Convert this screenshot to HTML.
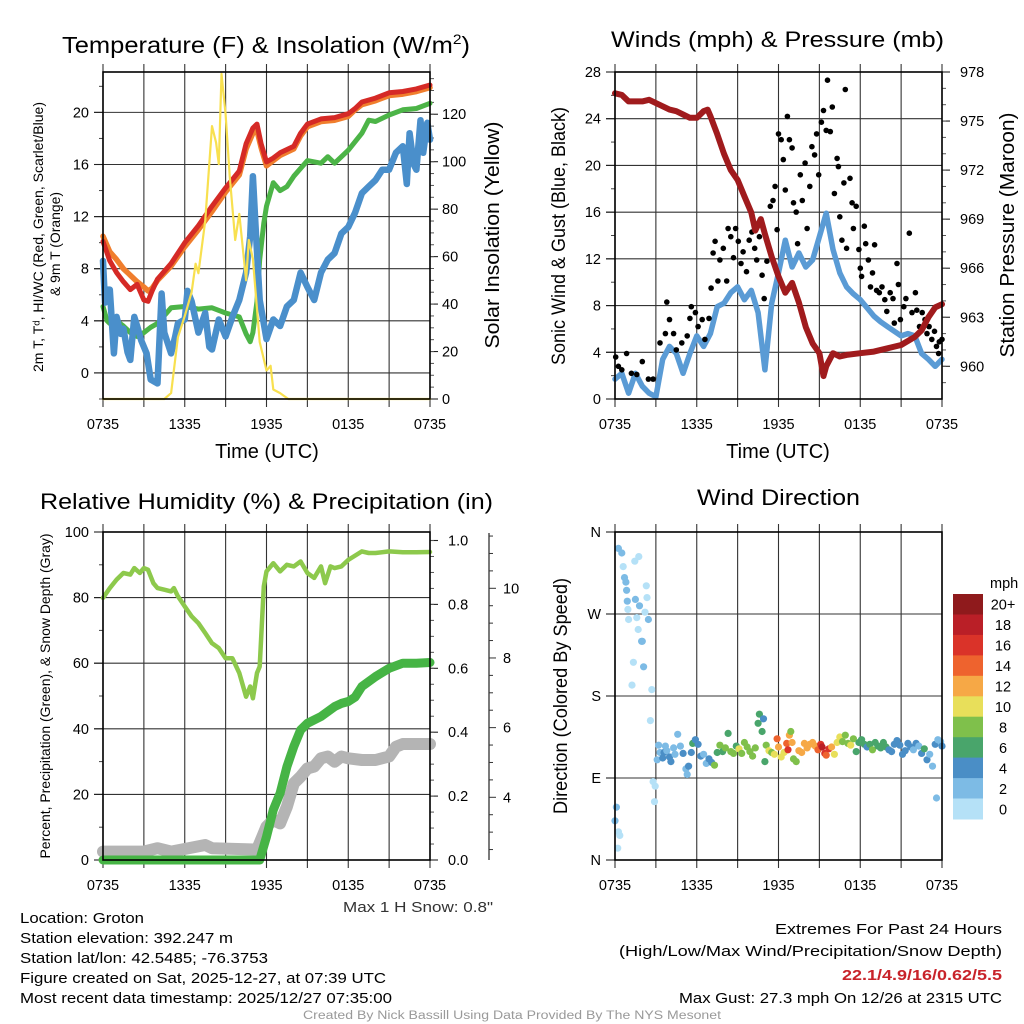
<!DOCTYPE html>
<html><head><meta charset="utf-8"><style>
html,body{margin:0;padding:0;background:#fff;}
svg{display:block;font-family:"Liberation Sans",Arial,sans-serif;}
</style></head><body>
<svg id="chart" width="1024" height="1024" viewBox="0 0 1024 1024" xmlns="http://www.w3.org/2000/svg">
<rect x="0" y="0" width="1024" height="1024" fill="#fff"/>
</svg>
<script>
// ---------- DATA ----------
const timeTickLabels = ["0735","1335","1935","0135","0735"];
const timeTickHours = [0,6,12,18,24];
// Panel 1
const redH = [0,0.5,1,1.5,2,2.5,3,3.3,3.6,4,5,6,7,8,9,10,10.5,11,11.3,11.6,12,12.5,13,14,14.5,15,16,17,18,18.5,19,20,21,22,23,24];
const redV = [10.1,8.6,7.7,7.0,6.4,6.8,5.6,5.5,6.3,7.2,8.4,10.0,11.3,12.8,14.2,15.5,17.6,18.8,19.1,17.6,16.2,16.5,16.9,17.4,18.4,19.1,19.5,19.6,19.9,20.3,20.8,21.1,21.5,21.6,21.8,22.1];
const orangeV = [10.5,9.3,8.7,8.0,7.5,7.0,6.6,6.3,6.5,7.1,8.2,9.7,11.0,12.4,13.9,15.2,17.2,18.4,18.6,17.3,15.9,16.3,16.7,17.2,18.2,18.9,19.3,19.4,19.7,20.2,20.6,20.9,21.3,21.4,21.6,21.9];
const greenH = [0,0.3,0.5,1,1.5,2,2.5,3,3.5,4,5,6,7,8,9,10,10.5,10.8,11,11.3,11.5,11.8,12,12.5,13,13.5,14,15,16,16.5,17,18,19,19.5,20,21,22,23,24];
const greenV = [5.1,4.0,3.8,4.0,3.6,3.1,2.8,3.1,3.5,3.8,5.0,5.1,4.9,5.0,4.6,4.3,3.0,2.4,3.1,5.5,8.7,11.5,12.8,14.6,14.0,14.3,15.1,16.3,16.1,16.6,16.1,17.1,18.4,19.4,19.3,19.8,20.2,20.3,20.7];
const blueH = [0,0.15,0.3,0.5,0.8,1,1.3,1.5,1.8,2,2.3,2.5,2.8,3.2,3.5,4,4.3,4.5,5,5.3,5.5,6,6.2,6.5,7,7.5,7.8,8,8.5,9,9.5,10,10.5,10.8,11,11.2,11.5,12,12.5,13,13.5,14,14.5,15,15.5,16,16.5,17,17.5,18,18.5,19,19.5,20,20.5,21,21.5,22,22.3,22.5,22.8,23,23.3,23.5,23.8,24];
const blueV = [8.6,5.4,6.4,6.4,1.5,4.3,3.0,3.4,1.6,1.0,4.3,3.6,2.5,1.5,-0.5,-0.8,6.1,3.1,1.5,2.8,3.8,4.1,6.3,5.5,3.1,4.6,2.0,1.8,4.1,2.8,4.3,5.6,7.7,10.5,15.1,11.2,5.6,2.6,4.1,3.6,5.1,5.6,7.7,6.6,5.6,7.7,8.7,9.2,10.7,11.2,12.3,13.8,14.3,14.8,15.6,15.6,16.9,17.4,14.5,18.4,16.0,15.6,19.4,16.9,19.2,17.9];
const solarH = [0,4.5,5,5.5,6,6.5,6.8,7,7.5,8,8.3,8.5,8.7,9,9.3,9.7,10,10.5,10.7,11,11.5,12,12.3,12.5,13,13.6,24];
const solarV = [0,0,2.5,26,35,45,57,53,75,115,108,99,137,120,94,67,78,50,67,59,24,12,14,4,2.5,0,0];
// Panel 2
const presH = [0,0.5,1,1.5,2,2.5,3,3.5,4,4.5,5,5.5,6,6.5,6.8,7,7.5,8,8.5,9,9.5,10,10.3,10.7,11,11.5,12,12.5,13,13.5,14,14.5,15,15.3,15.5,16,16.5,17,18,19,20,21,22,22.5,23,23.5,24];
const presV = [976.7,976.6,976.2,976.2,976.2,976.3,976.1,975.9,975.7,975.6,975.4,975.2,975.2,975.6,975.7,975.3,974.2,973.0,972.0,971.4,970.4,969.4,968.3,969.0,968.1,966.7,965.5,964.5,965.1,963.9,962.4,961.4,960.8,959.4,960.0,960.8,960.6,960.7,960.8,960.9,961.1,961.3,961.8,962.2,963.0,963.6,963.8];
const windV = [1.7,2.2,0.5,2.2,1.1,0.5,0.2,3.4,4.5,3.9,2.2,3.9,5.4,4.5,5.6,7.9,8.2,9.1,9.6,8.5,9.3,7.4,2.5,8.2,10.8,13.6,11.3,12.5,11.3,11.9,13.9,15.9,12.8,10.8,9.6,9.0,8.5,7.8,7.1,6.6,6.2,5.8,5.4,5.6,5.4,3.9,3.4,2.8,3.4];
const gustH = [0.05,0.25,0.5,0.85,1.2,1.6,2,2.45,2.8,3.3,3.7,3.8,4.0,4.3,4.5,4.9,5.3,5.5,5.6,5.9,6.1,6.4,6.6,6.9,7.05,7.2,7.35,7.55,7.7,7.95,8.2,8.3,8.5,8.7,8.85,9.05,9.25,9.4,9.65,9.85,10.05,10.25,10.4,10.6,10.8,10.95,11.15,11.4,11.6,11.75,11.9,12.0,12.2,12.35,12.5,12.65,12.8,13,13.1,13.3,13.4,13.6,13.75,13.95,14.1,14.3,14.45,14.65,14.8,14.95,15.15,15.3,15.5,15.6,15.8,15.95,16.1,16.3,16.4,16.5,16.65,16.8,16.9,17.0,17.25,17.4,17.5,17.7,17.9,18.0,18.1,18.3,18.4,18.6,18.75,18.9,19.05,19.2,19.4,19.6,19.8,19.95,20.2,20.4,20.5,20.7,20.8,20.95,21.2,21.35,21.6,21.8,22.05,22.15,22.35,22.55,22.75,22.9,23.05,23.25,23.45,23.6,23.8,24,23.75];
const gustV = [3.6,2.8,2.5,3.9,2.2,2.1,3.2,1.7,1.7,4.8,5.6,8.3,6.8,5.6,4.2,4.8,5.4,6.9,7.9,7.4,6.2,6.8,5.1,6.9,9.5,12.5,13.5,10.1,11.9,12.9,10.1,14.6,13.9,12.1,14.6,13.5,11.6,12.6,10.9,13.6,14.3,12.9,11.9,13.9,10.6,8.6,11.8,16.5,17.0,18.2,14.5,22.7,22.2,20.5,17.9,24.2,22.2,21.5,16.8,16.0,13.3,19.2,17.0,20.2,14.6,18.2,21.6,20.9,22.7,19.2,23.7,24.7,23.0,27.3,22.9,25.0,17.6,20.6,19.9,15.6,13.6,18.5,26.5,12.9,18.9,16.8,14.6,16.5,12.8,11.2,10.5,14.8,13.3,11.9,9.6,10.8,13.2,9.3,9.1,9.6,8.5,7.5,9.1,8.6,6.5,11.6,9.8,6.8,7.9,8.6,14.2,7.4,9.1,7.6,6.2,7.4,6.8,5.6,6.2,5.1,5.8,4.5,4.9,5.1,3.9];
// Panel 3
const rhH = [0,0.5,1,1.5,2,2.3,2.7,3,3.3,3.7,4,4.5,5,5.2,5.5,6,6.5,7,7.5,8,8.5,9,9.5,10,10.5,10.8,11,11.3,11.5,11.8,12,12.5,13,13.5,14,14.5,15,15.5,16,16.3,16.7,17,17.5,18,19,19.5,20,21,22,23,24];
const rhV = [79.9,82.9,85.5,87.5,87,89,87.5,89,88.5,84.4,82.9,82.4,81.9,82.9,80.4,77.3,74.3,72.2,69.2,66.1,64.6,61.5,61.5,57,49.8,52.9,49.3,57,59,83.4,88,90.5,88,90,89.5,91,87.5,86,89.5,84.4,89.5,89,89.5,91.5,94.1,93.6,93.6,94.1,93.8,93.8,93.9];
const precipH = [0,11.5,12,12.5,13,13.5,14,14.5,15,16,17,17.5,18,18.5,19,20,21,22,23,24];
const precipV = [0,0,0.073,0.157,0.209,0.292,0.355,0.407,0.428,0.449,0.48,0.49,0.496,0.51,0.543,0.574,0.6,0.616,0.616,0.618];
const snowH = [0,3,4,5,7.5,8,11.3,12,12.5,13,13.5,14,14.5,15,15.5,16,16.5,17,17.5,18,19,20,21,21.5,22,24];
const snowV = [2.44,2.44,2.54,2.44,2.63,2.54,2.5,3.16,3.35,3.25,3.73,4.4,4.59,4.83,4.88,5.12,5.17,5.02,5.17,5.12,5.07,5.07,5.17,5.45,5.53,5.53];
// Panel 4
const dirH = [0.25,0.5,0.6,0.7,0.8,0.85,0.9,0.95,1.0,1.45,1.75,1.5,1.8,1.6,1.7,1.95,2.0,2.2,2.3,2.35,2.45,1.35,2.1,1.25,2.7,2.6,2.8,2.95,2.9,0.1,0.0,0.25,0.35,0.2,3.1,3.2,3.3,3.5,3.6,3.7,3.8,4.0,4.1,4.3,4.4,4.6,4.8,5.0,5.2,5.3,5.4,5.6,5.7,5.9,6.1,6.3,6.5,6.7,6.9,7.1,7.3,7.5,7.7,7.9,8.1,8.3,8.5,8.7,8.9,9.1,9.3,9.5,9.7,9.9,10.1,10.3,10.5,10.6,10.8,10.9,11.0,11.1,11.3,11.5,11.7,11.9,12.0,12.2,12.4,12.6,12.7,12.8,12.9,13.0,13.1,13.3,13.5,13.7,13.9,14.1,14.3,14.5,14.7,14.9,15.1,15.2,15.4,15.5,15.7,15.9,16.1,16.3,16.5,16.7,16.9,17.1,17.3,17.5,17.7,17.9,18.1,18.3,18.5,18.7,18.9,19.1,19.3,19.5,19.7,19.9,20.1,20.3,20.5,20.7,20.9,21.1,21.3,21.5,21.7,21.9,22.1,22.3,22.5,22.7,22.9,23.1,23.3,23.5,23.6,23.7,23.9,24.0];
const dirV = [342,337,322,310,305,296,284,275,264,328,333,286,279,266,253,240,240,272,301,288,264,217,212,192,187,153,86,81,64,58,43,31,27,13,110,126,118,112,118,125,120,113,108,123,116,138,125,117,100,94,103,118,128,132,127,114,116,106,111,107,104,118,126,119,123,139,119,117,125,122,117,129,124,119,114,123,150,160,141,155,108,126,120,118,116,133,124,113,118,128,121,137,141,129,111,108,120,118,128,123,127,129,125,121,127,124,117,115,122,124,116,129,135,130,137,128,126,133,119,129,132,127,124,127,121,129,125,123,129,124,121,119,127,131,126,116,120,128,124,121,128,125,117,122,110,116,103,127,68,132,130,125];
const dirSpd = [3,3,1,3,3,3,3,1,1,1,1,3,3,1,1,3,3,1,1,1,3,1,3,1,1,1,1,1,1,3,3,1,1,1,2,2,3,4,4,2,3,4,4,3,2,2,2,4,2,2,4,4,6,4,4,4,2,2,4,4,8,6,8,7,8,6,8,8,6,10,8,8,8,8,9,8,6,6,6,4,6,8,10,9,10,14,12,10,10,14,16,12,9,12,9,8,12,12,12,12,12,12,13,14,16,18,16,14,16,12,10,10,10,8,8,9,10,8,6,6,6,6,5,6,8,6,6,6,6,6,4,4,4,4,4,4,4,4,4,2,4,2,4,6,4,2,2,4,2,2,2,4];
const speedBinLabels = ["20+","18","16","14","12","10","8","6","4","2","0"];
const speedBinColors = ["#8f1a1c","#ba1f27","#da3329","#ee632e","#f6a846","#e8df5a","#7fc04b","#49a56b","#4a8ec6","#7dbbe5","#b5e1f7"];

// ---------- HELPERS ----------
const svg = document.getElementById('chart');
const NS = 'http://www.w3.org/2000/svg';
function mk(tag, attrs, parent){
  const el = document.createElementNS(NS, tag);
  for (const k in attrs) el.setAttribute(k, attrs[k]);
  (parent||svg).appendChild(el);
  return el;
}
function txt(s, attrs, parent){ const t = mk('text', attrs, parent); t.textContent = s; return t; }
function linScale(d0,d1,r0,r1){ return v => r0 + (v-d0)/(d1-d0)*(r1-r0); }

function panel(name, box){
  const g = mk('g', {});
  
  
  const sx = linScale(0,24,box.x0,box.x1);
  const vg = mk('g', {}, g);
  
  
  for (let h=0; h<=24; h+=3){
    const l = mk('line', {x1:sx(h),x2:sx(h),y1:box.y0-8,y2:box.y1+8,stroke:'#333','stroke-width':1.1}, vg);
    
    
  }
  const xl = mk('g', {}, g);
  
  
  timeTickHours.forEach((h,i)=>{
    const t = txt(timeTickLabels[i], {x:sx(h), y:box.y1+30, 'text-anchor':'middle','font-size':14.5}, xl);
    
    
  });
  return {g, sx};
}
function yAxisLeft(g, box, sy, gridVals, majors, fmt, minors, name){
  const ag = mk('g', {}, g);
  
  
  gridVals.forEach(v=>{
    const l = mk('line', {x1:box.x0-9,x2:box.x1,y1:sy(v),y2:sy(v),stroke:'#333','stroke-width':1.1}, ag);
    
    
  });
  majors.forEach(v=>{
    mk('line', {x1:box.x0-9,x2:box.x0,y1:sy(v),y2:sy(v),stroke:'#222','stroke-width':1.1}, ag);
    const t = txt(fmt(v), {x:box.x0-14, y:sy(v)+5, 'text-anchor':'end','font-size':14.5}, ag);
    
    
  });
  minors.forEach(v=>{ mk('line', {x1:box.x0-4,x2:box.x0,y1:sy(v),y2:sy(v),stroke:'#444','stroke-width':1}, ag); });
}
function yAxisRight(g, x, sy, majors, minors, fmt, name, labelDx){
  const ag = mk('g', {}, g);
  
  
  majors.forEach(v=>{
    mk('line', {x1:x,x2:x+8,y1:sy(v),y2:sy(v),stroke:'#222','stroke-width':1.1}, ag);
    const t = txt(fmt(v), {x:x+labelDx, y:sy(v)+5, 'font-size':14.5}, ag);
    
    
  });
  minors.forEach(v=>{ mk('line', {x1:x,x2:x+4,y1:sy(v),y2:sy(v),stroke:'#555','stroke-width':1}, ag); });
}
function frame(g, box){
  const r = mk('rect', {x:box.x0,y:box.y0,width:box.x1-box.x0,height:box.y1-box.y0,fill:'none',stroke:'#000','stroke-width':1.6}, g);
  
  
}
function line(g, H, V, sx, sy, color, w, name){
  const pts = H.map((h,i)=> sx(h).toFixed(1)+','+sy(V[i]).toFixed(1)).join(' ');
  const p = mk('polyline', {points:pts, fill:'none', stroke:color, 'stroke-width':w, 'stroke-linejoin':'round','stroke-linecap':'round'}, g);
  
  
  return p;
}
function rotLabel(g, s, x, y, size, name, len){
  const a = {x:x, y:y, 'text-anchor':'middle','font-size':size, transform:'rotate(-90 '+x+' '+y+')'};
  if (len){ a.textLength = len; a.lengthAdjust = 'spacingAndGlyphs'; }
  const t = txt(s, a, g);
  
  
  return t;
}
function range(a,b,s){ const r=[]; for(let v=a; v<=b+1e-9; v+=s) r.push(Math.round(v*1000)/1000); return r; }

// ---------- PANEL 1 ----------
(function(){
  const box = {x0:103,x1:430,y0:72,y1:399};
  const {g, sx} = panel('temperature-panel', box);
  const sy = linScale(-2,23.1,box.y1,box.y0);
  const sr = linScale(0,137.8,box.y1,box.y0);
  yAxisLeft(g, box, sy, [0,4,8,12,16,20], [0,4,8,12,16,20], v=>String(v), range(-2,22,4), 'temperature-y-axis');
  yAxisRight(g, box.x1, sr, [0,20,40,60,80,100,120], range(5,135,5), v=>String(v), 'solar-y-axis', 12);
  const t = txt('Temperature (F) & Insolation (W/m', {x:62, y:53, 'font-size':23, textLength:408, lengthAdjust:'spacingAndGlyphs'}, g);
  const sup = mk('tspan', {'font-size':14, dy:-9}, t); sup.textContent='2';
  const cl = mk('tspan', {dy:9}, t); cl.textContent=')';
  
  
  line(g, redH, orangeV, sx, sy, '#f07e2d', 5.5, 'orange-9m-temp-line');
  line(g, redH, redV, sx, sy, '#d52a26', 5, 'red-2m-temp-line');
  line(g, greenH, greenV, sx, sy, '#4cb447', 5, 'green-dewpoint-line');
  line(g, blueH, blueV, sx, sy, '#4a8fcb', 6.5, 'blue-windchill-line');
  line(g, solarH, solarV, sx, sr, '#f8e04f', 2.2, 'yellow-solar-line');
  frame(g, box);
  rotLabel(g, '2m T, T\u1d48, HI/WC (Red, Green, Scarlet/Blue)', 43, 237, 14, 'temperature-y-title', 270);
  rotLabel(g, '& 9m T (Orange)', 60, 244, 14, 'temperature-y-title-line2', 104);
  rotLabel(g, 'Solar Insolation (Yellow)', 499, 235, 20, 'solar-y-title', 227);
  const xt = txt('Time (UTC)', {x:267, y:458, 'text-anchor':'middle','font-size':20}, g);
  
  
})();

// ---------- PANEL 2 ----------
(function(){
  const box = {x0:615,x1:942,y0:72,y1:399};
  const {g, sx} = panel('wind-pressure-panel', box);
  const sy = linScale(0,28,box.y1,box.y0);
  const sp = linScale(958,978,box.y1,box.y0);
  yAxisLeft(g, box, sy, [4,8,12,16,20,24], [0,4,8,12,16,20,24,28], v=>String(v), range(2,26,4), 'wind-y-axis');
  yAxisRight(g, box.x1, sp, [960,963,966,969,972,975,978], range(959,977,1), v=>String(v), 'pressure-y-axis', 18);
  const t = txt('Winds (mph) & Pressure (mb)', {x:611, y:47, 'font-size':22, textLength:333, lengthAdjust:'spacingAndGlyphs'}, g);
  
  
  const windH = windV.map((v,i)=> i*0.5);
  line(g, windH, windV, sx, sy, '#5a9bd5', 5.5, 'blue-sonic-wind-line');
  const dg = mk('g', {fill:'#000'}, g);
  
  
  gustH.forEach((h,i)=>{
    const c = mk('circle', {cx:sx(h).toFixed(1), cy:sy(gustV[i]).toFixed(1), r:2.8}, dg);
    
    
  });
  line(g, presH, presV, sx, sp, '#a01b1d', 6, 'maroon-pressure-line');
  frame(g, box);
  rotLabel(g, 'Sonic Wind & Gust (Blue, Black)', 565, 236, 19, 'wind-y-title', 258);
  rotLabel(g, 'Station Pressure (Maroon)', 1014, 235, 20, 'pressure-y-title', 245);
  const xt = txt('Time (UTC)', {x:778, y:458, 'text-anchor':'middle','font-size':20}, g);
  
  
})();

// ---------- PANEL 3 ----------
(function(){
  const box = {x0:103,x1:430,y0:532,y1:860};
  const {g, sx} = panel('humidity-precip-panel', box);
  const sy = linScale(0,100,box.y1,box.y0);
  const sr = linScale(0,1.0266,box.y1,box.y0);
  const ss = linScale(4,10,797.3,588.3);
  yAxisLeft(g, box, sy, [20,40,60,80], [0,20,40,60,80,100], v=>String(v), range(10,90,20), 'humidity-y-axis');
  yAxisRight(g, box.x1, sr, [0,0.2,0.4,0.6,0.8,1.0], range(0.05,1.0,0.05), v=>v.toFixed(1), 'precip-y-axis', 18);
  const sa = mk('g', {}, g);
  
  
  mk('line', {x1:489,x2:489,y1:533,y2:860,stroke:'#222','stroke-width':1.2}, sa);
  range(2.5,11.5,0.5).forEach(v=>{
    const major = Math.abs(v-Math.round(v/2)*2)<1e-6;
    mk('line', {x1:489,x2:major?496:493,y1:ss(v),y2:ss(v),stroke:'#333','stroke-width':1}, sa);
    if (major && v>=4 && v<=10){
      const t = txt(String(v), {x:503, y:ss(v)+5, 'font-size':14.5}, sa);
      
      
    }
  });
  const t = txt('Relative Humidity (%) & Precipitation (in)', {x:40, y:509, 'font-size':22, textLength:453, lengthAdjust:'spacingAndGlyphs'}, g);
  
  
  line(g, rhH, rhV, sx, sy, '#8dc94c', 4.5, 'rh-line');
  line(g, snowH, snowV, sx, ss, '#b4b4b4', 12, 'gray-snow-depth-line');
  line(g, precipH, precipV, sx, sr, '#46b445', 9, 'green-precip-line');
  frame(g, box);
  rotLabel(g, 'Percent, Precipitation (Green), & Snow Depth (Gray)', 50, 696, 14, 'humidity-y-title', 325);
  const sn = txt('Max 1 H Snow: 0.8"', {x:493, y:912, 'text-anchor':'end','font-size':14.5, fill:'#333', textLength:150, lengthAdjust:'spacingAndGlyphs'}, g);
  
  
})();

// ---------- PANEL 4 ----------
(function(){
  const box = {x0:615,x1:942,y0:532,y1:860};
  const {g, sx} = panel('wind-direction-panel', box);
  const sy = linScale(0,360,box.y1,box.y0);
  const dirLabels = ['N','E','S','W','N'];
  yAxisLeft(g, box, sy, [90,180,270], [0,90,180,270,360], v=>dirLabels[v/90], [], 'direction-y-axis');
  const t = txt('Wind Direction', {x:697, y:505, 'font-size':22, textLength:163, lengthAdjust:'spacingAndGlyphs'}, g);
  
  
  const pg = mk('g', {}, g);
  
  
  dirH.forEach((h,i)=>{
    const bin = Math.min(10, Math.floor(dirSpd[i]/2));
    const c = mk('circle', {cx:sx(h).toFixed(1), cy:sy(dirV[i]).toFixed(1), r:3.6, fill:speedBinColors[10-bin]}, pg);
    
    
  });
  frame(g, box);
  rotLabel(g, 'Direction (Colored By Speed)', 567, 696, 19, 'direction-y-title', 236);
  const cb = mk('g', {}, g);
  
  
  const u = txt('mph', {x:990, y:588, 'font-size':14.5}, cb);
  
  
  const bh = (819-594)/speedBinColors.length;
  speedBinColors.forEach((c,i)=>{
    const r = mk('rect', {x:953, y:(594+i*bh).toFixed(1), width:30, height:(bh+0.5).toFixed(1), fill:c}, cb);
    
    
    const l = txt(speedBinLabels[i], {x:1003, y:(594+i*bh+bh/2+5.5).toFixed(1), 'text-anchor':'middle','font-size':14.5}, cb);
    
    
  });
})();

// ---------- FOOTER ----------
(function(){
  const g = mk('g', {'font-size':15});
  
  
  const left = [['Location: Groton',124],['Station elevation: 392.247 m',213],['Station lat/lon: 42.5485; -76.3753',248],['Figure created on Sat, 2025-12-27, at 07:39 UTC',366],['Most recent data timestamp: 2025/12/27 07:35:00',372]];
  left.forEach((l,i)=>{
    const t = txt(l[0], {x:20, y:923+i*20, textLength:l[1], lengthAdjust:'spacingAndGlyphs'}, g);
    
    
  });
  const right = [['Extremes For Past 24 Hours',934,227,'#000','normal'],['(High/Low/Max Wind/Precipitation/Snow Depth)',956,383,'#000','normal'],['22.1/4.9/16/0.62/5.5',980,160,'#c8232a','bold'],['Max Gust: 27.3 mph On 12/26 at 2315 UTC',1003,323,'#000','normal']];
  right.forEach(r=>{
    const t = txt(r[0], {x:1002, y:r[1], 'text-anchor':'end', fill:r[3], 'font-weight':r[4], textLength:r[2], lengthAdjust:'spacingAndGlyphs'}, g);
    
    
  });
  const f = txt('Created By Nick Bassill Using Data Provided By The NYS Mesonet', {x:512, y:1019, 'text-anchor':'middle','font-size':11.5, fill:'#999', textLength:418, lengthAdjust:'spacingAndGlyphs'});
  
  
})();
</script>
</body></html>
